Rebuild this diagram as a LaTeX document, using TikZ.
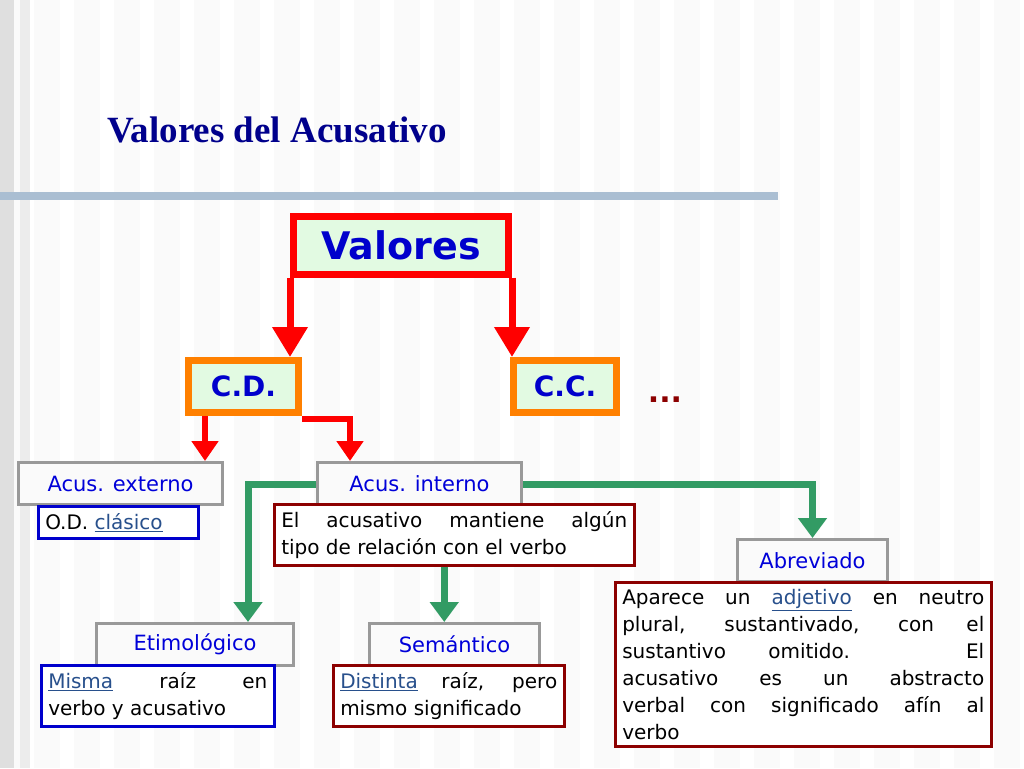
\documentclass[tikz,border=0pt]{standalone}
\usepackage{fontspec}
\setmainfont{DejaVu Sans}
\newfontfamily\titlefont{Liberation Serif}
\usetikzlibrary{arrows.meta}
\definecolor{titleblue}{RGB}{0,0,140}
\definecolor{boxgreen}{RGB}{226,250,226}
\definecolor{arrowgreen}{RGB}{50,155,100}
\definecolor{darkred}{RGB}{140,0,0}
\definecolor{linkblue}{RGB}{40,80,140}
\definecolor{barblue}{RGB}{170,190,210}
\newcommand{\nohyph}{\hyphenpenalty=10000\relax}
\tikzset{>=Triangle}
\tikzset{
  redarrow/.style={red,line width=7pt,->,>={Triangle[length=30pt,width=34pt]}},
  smallred/.style={red,line width=6pt,->,>={Triangle[length=20pt,width=26pt]}},
  greenarrow/.style={arrowgreen,line width=7pt,->,>={Triangle[length=20pt,width=28pt]}},
  topbox/.style={draw=red,line width=7pt,fill=boxgreen,minimum width=215pt,minimum height=58pt,
    font=\fontsize{38}{44}\selectfont\bfseries,text=blue!80!black},
  midbox/.style={draw=orange,line width=7pt,fill=boxgreen,minimum height=52pt,anchor=north west,
    font=\fontsize{28}{30}\selectfont\bfseries,text=blue!80!black,inner sep=8pt},
  graybox/.style={draw=gray!80,line width=3pt,fill=white!96!gray,minimum height=42pt,anchor=north west,
    font=\fontsize{21}{24}\selectfont,text=blue!85!black},
  infobox/.style={line width=2.5pt,fill=white,anchor=north west,
    font=\fontsize{20}{27}\selectfont,align=justify,inner sep=7pt}
}
\newcommand{\lnktext}[1]{\textcolor{linkblue}{\underline{#1}}}
\begin{document}
\begin{tikzpicture}[x=1pt,y=-1pt]
  \useasboundingbox (0,0) rectangle (1024,768);
  % background
  \fill[white!96!gray] (0,0) rectangle (1024,768);
  \foreach \x in {0,40,...,1000}
    \fill[white] (\x+20,0) rectangle (\x+34,768);
  \fill[gray!25] (0,0) rectangle (14,768);
  \fill[gray!15] (20,0) rectangle (30,768);
  % title
  \node[anchor=west,font=\titlefont\fontsize{37}{40}\selectfont\bfseries,text=titleblue] (title) at (104,130) {Valores del Acusativo};
  \fill[barblue] (0,192) rectangle (778,200);
  % nodes
  \node[topbox] (val) at (401,245) {Valores};
  \node[midbox,minimum width=110pt] (cd) at (185,357) {C.D.\hspace{12pt}};
  \node[midbox,minimum width=103pt] (cc) at (510,357) {C.C.};
  \node[text=darkred,font=\fontsize{30}{30}\selectfont\bfseries] (dots) at (665,400) {...};
  \node[graybox,minimum width=204pt] (ext) at (17,461) {Acus. externo};
  \node[graybox,minimum width=204pt] (int) at (316,461) {Acus. interno};
  \node[infobox,draw=blue!80!black,text width=146pt] (od) at (37,505) {\nohyph O.D. \lnktext{clásico}};
  \node[infobox,draw=darkred,text width=346pt] (rel) at (273,503) {\nohyph El acusativo mantiene algún\linebreak tipo de relación con el verbo};
  \node[graybox,minimum width=150pt] (abr) at (736,538) {Abreviado};
  \node[infobox,draw=darkred,text width=362pt] (apa) at (614,581) {\nohyph Aparece un \lnktext{adjetivo} en neutro\linebreak plural, sustantivado, con el\linebreak sustantivo omitido. El\linebreak acusativo es un abstracto\linebreak verbal con significado afín al\linebreak verbo};
  \node[graybox,minimum width=197pt] (eti) at (95,622) {Etimológico};
  \node[infobox,draw=blue!80!black,text width=219pt] (mis) at (40,664) {\nohyph\lnktext{Misma} raíz en\linebreak verbo y acusativo};
  \node[graybox,minimum width=170pt] (sem) at (368,622) {Semántico};
  \node[infobox,draw=darkred,text width=217pt] (dis) at (332,664) {\nohyph\lnktext{Distinta} raíz, pero\linebreak mismo significado};
  % connectors
  \draw[redarrow] (val.south west) -- (val.south west |- cd.north);
  \draw[redarrow] (val.south east) -- (val.south east |- cc.north);
  \draw[smallred] ([xshift=20pt]cd.south west) -- ([xshift=20pt]cd.south west |- ext.north);
  \draw[smallred] ([yshift=-3pt]cd.south east) -| ([xshift=34pt]int.north west);
  \draw[greenarrow] ([yshift=-1pt]int.west) -| ([xshift=153pt]eti.north west);
  \draw[greenarrow] ([yshift=-1pt]int.east) -| (abr.north);
  \draw[greenarrow] ([xshift=-10pt]rel.south) -- ([xshift=-10pt]rel.south |- sem.north);
\end{tikzpicture}
\end{document}
